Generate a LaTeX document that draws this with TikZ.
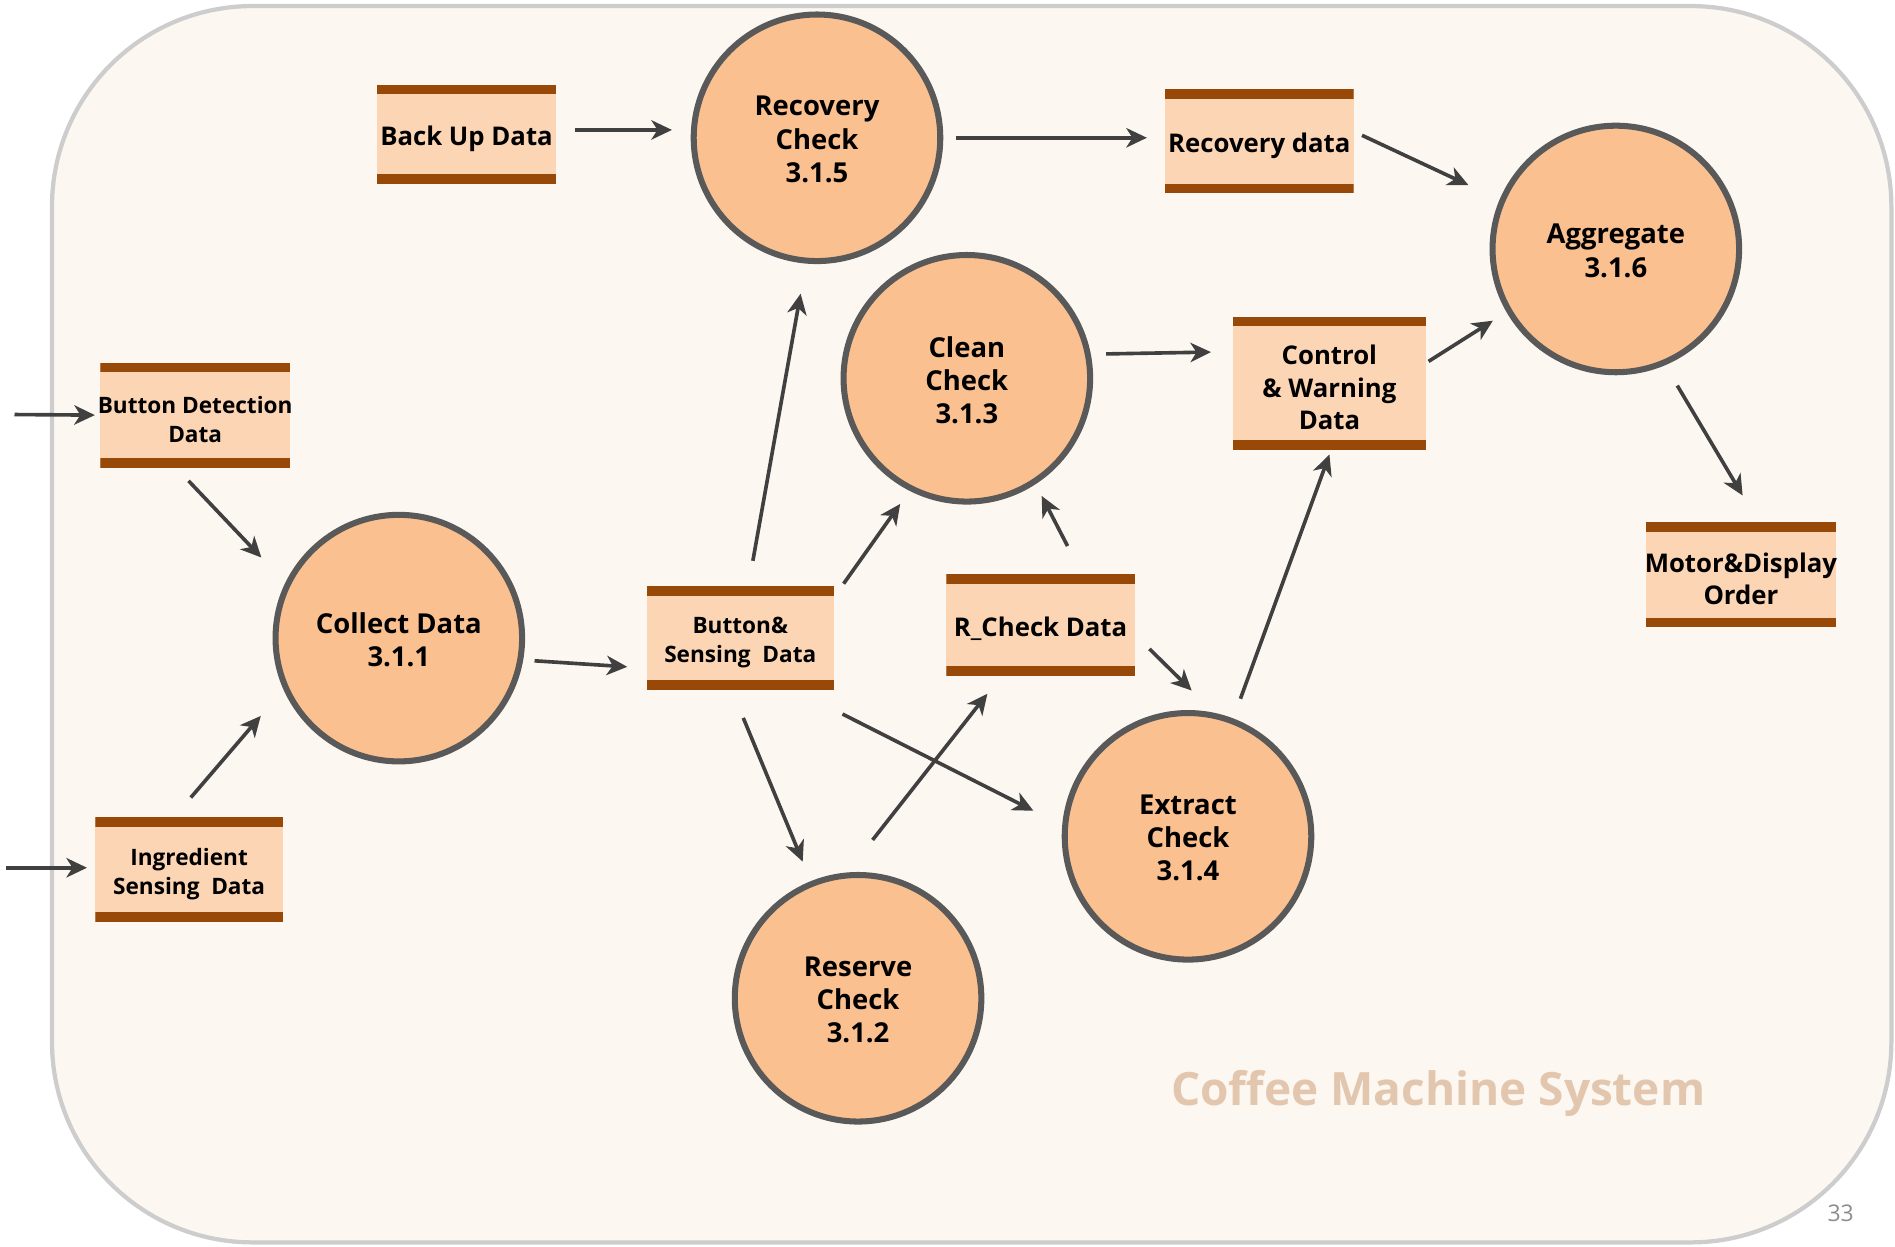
\documentclass[tikz,border=0pt]{standalone}
\usepackage{fontspec}
\setmainfont{Open Sans}
\usetikzlibrary{arrows.meta}

\definecolor{bgfill}{HTML}{FCF7F1}
\definecolor{bgline}{HTML}{CDCDCD}
\definecolor{procfill}{HTML}{FAC090}
\definecolor{procline}{HTML}{595959}
\definecolor{storefill}{HTML}{FCD5B4}
\definecolor{barcol}{HTML}{984807}
\definecolor{flowcol}{HTML}{404040}
\definecolor{titlecol}{HTML}{E2C6AE}
\definecolor{pagecol}{HTML}{8C8C8C}

\begin{document}
\begin{tikzpicture}[x=1pt,y=-1pt,
  proctext/.style={align=center, inner sep=0pt, yshift=-1.5pt,
    font=\bfseries\fontsize{22.7}{27.5}\selectfont},
  storetext/.style={align=center, inner sep=0pt, yshift=-3.5pt,
    font=\bfseries\fontsize{21.3}{26.5}\selectfont},
  smalltext/.style={storetext, font=\bfseries\fontsize{18.7}{24}\selectfont},
  proc/.style={circle, draw=procline, line width=5pt, fill=procfill,
    minimum size=204pt, inner sep=0pt, label={[proctext]center:{#1}}},
  storebox/.style={rectangle, fill=storefill, inner sep=0pt, outer sep=0pt,
    path picture={
      \fill[barcol] (path picture bounding box.north west) rectangle
        ([yshift=-8pt]path picture bounding box.north east);
      \fill[barcol] (path picture bounding box.south west) rectangle
        ([yshift=8pt]path picture bounding box.south east);}},
  store/.style={storebox, label={[storetext]center:{#1}}},
  smallstore/.style={storebox, label={[smalltext]center:{#1}}},
  flow/.style={draw=flowcol, line width=3pt,
    -{Stealth[length=17pt,width=16pt,inset=5pt]}},
]
\useasboundingbox (0,0) rectangle (1568,1031);

% panel
\draw[bgline, line width=3.5pt, fill=bgfill, rounded corners=166pt]
  (43,5) rectangle (1565,1028);

% processes
\node[proc={Recovery\\Check\\3.1.5}] (rc) at (676,114) {};
\node[proc={Clean\\Check\\3.1.3}] (cc) at (800,313) {};
\node[proc={Aggregate\\3.1.6}] (ag) at (1337,206) {};
\node[proc={Collect Data\\3.1.1}] (cd) at (330,528) {};
\node[proc={Extract\\Check\\3.1.4}] (ex) at (983,692) {};
\node[proc={Reserve\\Check\\3.1.2}] (rv) at (710,826) {};

% data stores
\node[store={Back Up Data}, minimum width=148pt, minimum height=82pt] (bu) at (386,111) {};
\node[store={Recovery data}, minimum width=156pt, minimum height=86pt] (rd) at (1042,117) {};
\node[smallstore={Button Detection\\Data}, minimum width=157pt, minimum height=87pt] (bd) at (161.5,343.5) {};
\node[store={Control\\\& Warning\\Data}, minimum width=160pt, minimum height=110pt] (cw) at (1100,317) {};
\node[smallstore={Button\&\\Sensing~~Data}, minimum width=155pt, minimum height=86pt] (bs) at (612.5,528) {};
\node[store={R\_Check Data}, minimum width=156pt, minimum height=84pt] (rk) at (861,517) {};
\node[store={Motor\&Display\\Order}, minimum width=157pt, minimum height=87pt] (md) at (1440.5,475.5) {};
\node[smallstore={Ingredient\\Sensing~~Data}, minimum width=155pt, minimum height=87pt] (isd) at (156.5,719.5) {};

% external inputs
\coordinate (inbtn) at (12,343);
\coordinate (ining) at (5,718);

% flows
\draw[flow, shorten <=16pt, shorten >=15.5pt] ([yshift=3.5pt]bu.east) -- ([yshift=6.5pt]rc.west);
\draw[flow, shorten <=10.5pt, shorten >=15pt] (rc.east) -- ([yshift=3pt]rd.west);
\draw[flow, shorten <=7.7pt, shorten >=28.5pt] ([yshift=8.3pt]rd.east) -- (ag.157);
\draw[flow, shorten <=12.6pt, shorten >=18pt] (cc.11.6) -- ([yshift=26pt]cw.west);
\draw[flow, shorten <=2.4pt, shorten >=13.3pt] ([yshift=16.7pt]cw.east) -- (ag.210);
\draw[flow, shorten <=19.6pt, shorten >=25.6pt] (ag.293) -- ([xshift=14.5pt]md.north);
\draw[flow, shorten >=4.5pt] (inbtn) -- (bd.west);
\draw[flow, shorten <=15pt, shorten >=28.8pt] ([xshift=-15.8pt]bd.south) -- (cd.154.5);
\draw[flow, shorten >=7pt] (ining) -- ([yshift=1.5pt]isd.west);
\draw[flow, shorten <=21.2pt, shorten >=28.8pt] ([xshift=-12.4pt]isd.north) -- (cd.204.4);
\draw[flow, shorten <=9.4pt, shorten >=16pt] (cd.-10.8) -- ([yshift=-24.8pt]bs.west);
\draw[flow, shorten <=21.3pt, shorten >=25.3pt] ([xshift=6.7pt]bs.north) -- (rc.265.3);
\draw[flow, shorten <=2.5pt, shorten >=13.3pt] ([xshift=6.6pt]bs.north east) -- (cc.243);
\draw[flow, shorten <=26.1pt, shorten >=10.9pt] ([xshift=34.3pt]rk.north) -- (cc.-57.7);
\draw[flow, shorten <=24.9pt, shorten >=17.5pt] ([xshift=-7pt]bs.south) -- (rv.112.1);
\draw[flow, shorten <=43.9pt, shorten >=26.7pt] ([xshift=45.5pt]bs.south) -- (ex.175.7);
\draw[flow, shorten <=34.2pt, shorten >=19.1pt] (rv.95) -- ([xshift=-32.2pt]rk.south);
\draw[flow, shorten <=17pt, shorten >=26.2pt] ([yshift=-8pt]rk.east) -- (ex.78.7);
\draw[flow, shorten <=17.35pt, shorten >=4.3pt] (ex.69.3) -- ([xshift=1.5pt]cw.south);

% captions
\node[text=titlecol, font=\bfseries\fontsize{38}{44}\selectfont] (title) at (1190,905) {Coffee Machine System};
\node[text=pagecol, font=\fontsize{19}{22}\selectfont] (page) at (1523,1004) {33};
\end{tikzpicture}
\end{document}
